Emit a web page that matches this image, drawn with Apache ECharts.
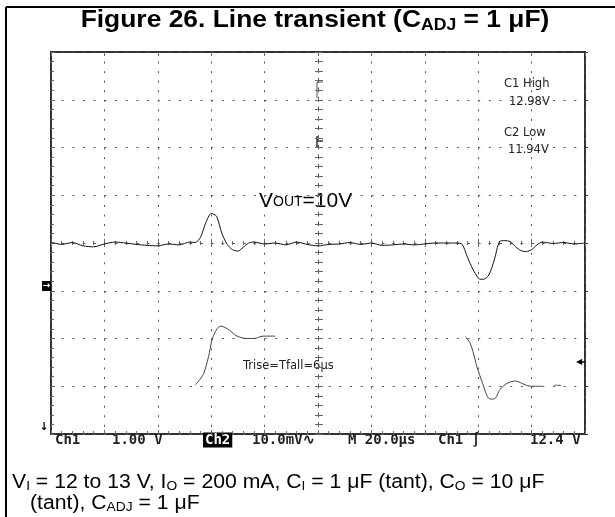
<!DOCTYPE html>
<html>
<head>
<meta charset="utf-8">
<script src="https://cdn.jsdelivr.net/npm/echarts@6/dist/echarts.min.js"></script>
<style>
  html, body { margin: 0; padding: 0; background: #fff; }
  #main { width: 615px; height: 517px; }
</style>
</head>
<body>
<div id="main"></div>
<script>
// scope settings: 20us/div x 10 div, ch1 1V/div, ch2 10mV/div
var timeMin = 0, timeMax = 200, timeStep = 20;
var ch1Min = 11, ch1Max = 19, ch1Step = 1;
var ch2Min = -40, ch2Max = 40, ch2Step = 10;

// Ch2 (Vout, AC coupled) in mV
var ch2Time = [0, 4, 8, 12, 16, 20, 24, 28, 32, 36,
               40, 44, 48, 52, 54, 56, 58, 60, 62, 64,
               66, 68, 70, 72, 74, 76, 80, 84, 88, 92,
               96, 100, 104, 108, 112, 116, 120, 124, 128, 132,
               136, 140, 144, 148, 152, 154, 156, 158, 160, 161,
               162, 164, 166, 168, 170, 172, 174, 176, 178, 180,
               182, 184, 188, 192, 196, 200];
var ch2Mv = [0.2, -0.3, 0.1, -0.6, -0.8, -0.2, 0.2, 0, -0.3, -0.5,
             -0.6, -0.2, -0.4, 0.2, 0.1, 1.2, 4.3, 6.2, 5.6, 2.0,
             -0.3, -1.4, -1.7, -0.9, 0, 0.2, -0.2, 0, -0.4, 0.2,
             -0.3, -0.6, -0.3, -0.2, 0.1, -0.3, 0, -0.5, -0.4, -0.2,
             -0.4, -0.2, 0, 0, 0, -0.3, -3.0, -5.5, -7.3, -7.6,
             -7.6, -6.7, -3.6, 0.3, 0.5, 0.3, -0.8, -1.6, -1.8, -1.4,
             -0.4, 0.2, -0.1, 0.1, -0.2, 0];

// Ch1 (Vin) in V, null = trace not visible
var ch1Time = [54, 55.5, 57.2, 59, 60.3, 61.5, 63.4, 65.9, 69.7, 73.4, 76, 79.5, 84, 85,
               155.2, 157, 158.9, 159.5, 161.4, 163.9, 165.8, 168.3, 170.8, 173.9, 177.6, 179.5, 184, 186,
               188.5, 191];
var ch1Volt = [12.03, 12.12, 12.27, 12.62, 12.97, 13.14, 13.26, 13.21, 13.05, 13.0, 13.0, 13.05, 13.05, null,
               13.04, 12.9, 12.55, 12.41, 12.1, 11.75, 11.73, 11.94, 12.06, 12.11, 12.03, 12.0, 12.0, null,
               12.02, 12.02];

var chart = echarts.init(document.getElementById('main'));

var ch2Data = ch2Time.map(function (t, i) { return [t, ch2Mv[i]]; });
var ch1Data = ch1Time.map(function (t, i) { return [t, ch1Volt[i] == null ? '-' : ch1Volt[i]]; });

var tickGray = '#666';
var dotGray = '#555';
var monoFont = 'DejaVu Sans Mono';

function scopeText(x, txt) {
    return { type: 'text', x: x, y: 440, style: { text: txt, fontFamily: monoFont, fontWeight: 'bold', fontSize: 14, fill: '#222', verticalAlign: 'middle', textVerticalAlign: 'middle' } };
}
function smallText(x, y, txt, size) {
    return { type: 'text', x: x, y: y, style: { text: txt, fontFamily: 'DejaVu Sans', fontSize: size, fill: '#222', verticalAlign: 'middle', textVerticalAlign: 'middle' } };
}
var subStyle = { fontFamily: 'Liberation Sans', fontSize: 13, lineHeight: 13, verticalAlign: 'bottom', fill: '#000' };

var option = {
    animation: false,
    backgroundColor: '#fff',
    grid: {
        left: 51, top: 52, width: 534, height: 382,
        show: true, borderColor: '#333', borderWidth: 2, backgroundColor: '#fff'
    },
    xAxis: [
        { // bottom border + vertical graticule
            type: 'value', min: timeMin, max: timeMax, interval: timeStep, position: 'bottom',
            axisLine: { show: false, onZero: false },
            axisTick: { show: true, inside: true, length: 4, lineStyle: { color: tickGray } },
            minorTick: { show: true, splitNumber: 5, length: 3, lineStyle: { color: tickGray } },
            axisLabel: { show: false },
            splitLine: { show: true, lineStyle: { color: dotGray, width: 1, type: [2, 7.56] } }
        },
        { // top border
            type: 'value', min: timeMin, max: timeMax, interval: timeStep, position: 'top',
            axisLine: { show: false, onZero: false },
            axisTick: { show: true, inside: true, length: 4, lineStyle: { color: tickGray } },
            axisLabel: { show: false }, splitLine: { show: false }
        },
        { // center horizontal line, upper ticks
            type: 'value', min: timeMin, max: timeMax, interval: timeStep, position: 'bottom',
            axisLine: { show: true, onZero: true, onZeroAxisIndex: 1, lineStyle: { color: dotGray, width: 1, type: [2, 8.68] } },
            axisTick: { show: true, inside: true, length: 4, lineStyle: { color: tickGray } },
            minorTick: { show: true, splitNumber: 5, length: 2, lineStyle: { color: tickGray } },
            axisLabel: { show: false }, splitLine: { show: false }
        },
        { // center horizontal line, lower ticks
            type: 'value', min: timeMin, max: timeMax, interval: timeStep, position: 'bottom',
            axisLine: { show: false, onZero: true, onZeroAxisIndex: 1 },
            axisTick: { show: true, inside: false, length: 4, lineStyle: { color: tickGray } },
            minorTick: { show: true, splitNumber: 5, length: 2, lineStyle: { color: tickGray } },
            axisLabel: { show: false }, splitLine: { show: false }
        },
        { // helper for the centre vertical line
            type: 'value', min: -100, max: 100, show: false,
            axisLine: { onZero: false }
        }
    ],
    yAxis: [
        { // Ch1 volts, left border + horizontal graticule
            type: 'value', min: ch1Min, max: ch1Max, interval: ch1Step, position: 'left',
            axisLine: { show: false, onZero: false },
            axisTick: { show: true, inside: true, length: 4, lineStyle: { color: tickGray } },
            minorTick: { show: true, splitNumber: 5, length: 3, lineStyle: { color: tickGray } },
            axisLabel: { show: false },
            splitLine: { show: true, lineStyle: { color: dotGray, width: 1, type: [2, 8.68] } }
        },
        { // Ch2 mV, right border
            type: 'value', min: ch2Min, max: ch2Max, interval: ch2Step, position: 'right',
            axisLine: { show: false, onZero: false },
            axisTick: { show: true, inside: false, length: 3, lineStyle: { color: '#333' } },
            axisLabel: { show: false }, splitLine: { show: false }
        },
        { // centre vertical line, right ticks
            type: 'value', min: ch2Min, max: ch2Max, interval: ch2Step, position: 'left',
            axisLine: { show: true, onZero: true, onZeroAxisIndex: 4, lineStyle: { color: dotGray, width: 1, type: [2, 7.56] } },
            axisTick: { show: true, inside: true, length: 5, lineStyle: { color: tickGray } },
            minorTick: { show: true, splitNumber: 5, length: 5, lineStyle: { color: tickGray } },
            axisLabel: { show: false }, splitLine: { show: false }
        },
        { // centre vertical line, left ticks
            type: 'value', min: ch2Min, max: ch2Max, interval: ch2Step, position: 'left',
            axisLine: { show: false, onZero: true, onZeroAxisIndex: 4 },
            axisTick: { show: true, inside: false, length: 3, lineStyle: { color: tickGray } },
            minorTick: { show: true, splitNumber: 5, length: 3, lineStyle: { color: tickGray } },
            axisLabel: { show: false }, splitLine: { show: false }
        }
    ],
    series: [
        {
            name: 'Ch2', type: 'line', xAxisIndex: 0, yAxisIndex: 1,
            data: ch2Data, showSymbol: false, smooth: 0.25,
            lineStyle: { color: '#111', width: 1 }
        },
        {
            name: 'Ch1', type: 'line', xAxisIndex: 0, yAxisIndex: 0,
            data: ch1Data, showSymbol: false, smooth: 0.3, connectNulls: false,
            lineStyle: { color: '#444', width: 1 }
        }
    ],
    graphic: [
        // figure frame (top + left)
        { type: 'line', shape: { x1: 6, y1: 7, x2: 615, y2: 7 }, style: { stroke: '#000', lineWidth: 2 } },
        { type: 'line', shape: { x1: 6, y1: 7, x2: 6, y2: 517 }, style: { stroke: '#000', lineWidth: 2 } },
        {
            type: 'text', x: 315, y: 20.5, scaleX: 1.1,
            style: {
                text: 'Figure 26. Line transient (C{s|ADJ} = 1 μF)',
                fontFamily: 'Liberation Sans', fontWeight: 'bold', fontSize: 24, fill: '#000',
                align: 'center', verticalAlign: 'middle', textAlign: 'center', textVerticalAlign: 'middle',
                lineHeight: 26,
                rich: { s: { fontFamily: 'Liberation Sans', fontWeight: 'bold', fontSize: 16, lineHeight: 16, verticalAlign: 'bottom', fill: '#000' } }
            }
        },
        // scope annotations
        {
            type: 'text', x: 259, y: 201,
            style: {
                text: '{b|V}{c|OUT}{b|=10V}', fill: '#000', align: 'left', verticalAlign: 'middle',
                textAlign: 'left', textVerticalAlign: 'middle',
                rich: {
                    b: { fontFamily: 'Liberation Sans', fontSize: 21, lineHeight: 22, fill: '#000' },
                    c: { fontFamily: 'Liberation Sans', fontSize: 14, lineHeight: 22, padding: [3, 0, 0, 0], fill: '#000' }
                }
            }
        },
        smallText(504, 84, 'C1 High', 11.5),
        smallText(509, 102, '12.98V', 11.5),
        smallText(504, 133, 'C2 Low', 11.5),
        smallText(508, 150, '11.94V', 11.5),
        smallText(243, 366, 'Trise=Tfall=6μs', 11.5),
        // scope markers
        { type: 'rect', shape: { x: 42, y: 281, width: 9, height: 10 }, style: { fill: '#000' } },
        { type: 'text', x: 46.5, y: 286, style: { text: '→', fontFamily: 'DejaVu Sans', fontWeight: 'bold', fontSize: 9, fill: '#fff', align: 'center', textAlign: 'center', verticalAlign: 'middle', textVerticalAlign: 'middle' } },
        { type: 'text', x: 44, y: 427, style: { text: '↓', fontFamily: 'DejaVu Sans', fontWeight: 'bold', fontSize: 11, fill: '#000', align: 'center', textAlign: 'center', verticalAlign: 'middle', textVerticalAlign: 'middle' } },
        { type: 'text', x: 579, y: 362, style: { text: '◀', fontFamily: 'DejaVu Sans', fontSize: 8, fill: '#000', align: 'center', textAlign: 'center', verticalAlign: 'middle', textVerticalAlign: 'middle' } },
        { type: 'line', shape: { x1: 579, y1: 362, x2: 585, y2: 362 }, style: { stroke: '#000', lineWidth: 1.5 } },
        { type: 'polyline', shape: { points: [[317, 98], [317, 82], [323, 82]] }, style: { stroke: '#555', lineWidth: 1, fill: null } },
        { type: 'polyline', shape: { points: [[317, 136], [317, 147]] }, style: { stroke: '#333', lineWidth: 1.5, fill: null } },
        { type: 'line', shape: { x1: 317, y1: 141, x2: 323, y2: 141 }, style: { stroke: '#333', lineWidth: 1.5 } },
        // scope status line
        scopeText(55, 'Ch1'),
        scopeText(112, '1.00 V'),
        { type: 'text', x: 203, y: 440, style: { text: 'Ch2', fontFamily: monoFont, fontWeight: 'bold', fontSize: 14, fill: '#fff', backgroundColor: '#000', padding: [1, 2, 0, 2], verticalAlign: 'middle', textVerticalAlign: 'middle' } },
        scopeText(252, '10.0mV∿'),
        scopeText(348, 'M 20.0μs'),
        scopeText(438, 'Ch1 ∫'),
        scopeText(530, '12.4 V'),
        // caption
        {
            type: 'text', x: 12, y: 482, scaleX: 1.06,
            style: {
                text: 'V{s|I} = 12 to 13 V, I{s|O} = 200 mA, C{s|I} = 1 μF (tant), C{s|O} = 10 μF',
                fontFamily: 'Liberation Sans', fontSize: 20, fill: '#000', lineHeight: 22,
                verticalAlign: 'middle', textVerticalAlign: 'middle',
                rich: { s: subStyle }
            }
        },
        {
            type: 'text', x: 30, y: 503, scaleX: 1.06,
            style: {
                text: '(tant), C{s|ADJ} = 1 μF',
                fontFamily: 'Liberation Sans', fontSize: 20, fill: '#000', lineHeight: 22,
                verticalAlign: 'middle', textVerticalAlign: 'middle',
                rich: { s: subStyle }
            }
        }
    ]
};

chart.setOption(option);
</script>
</body>
</html>
